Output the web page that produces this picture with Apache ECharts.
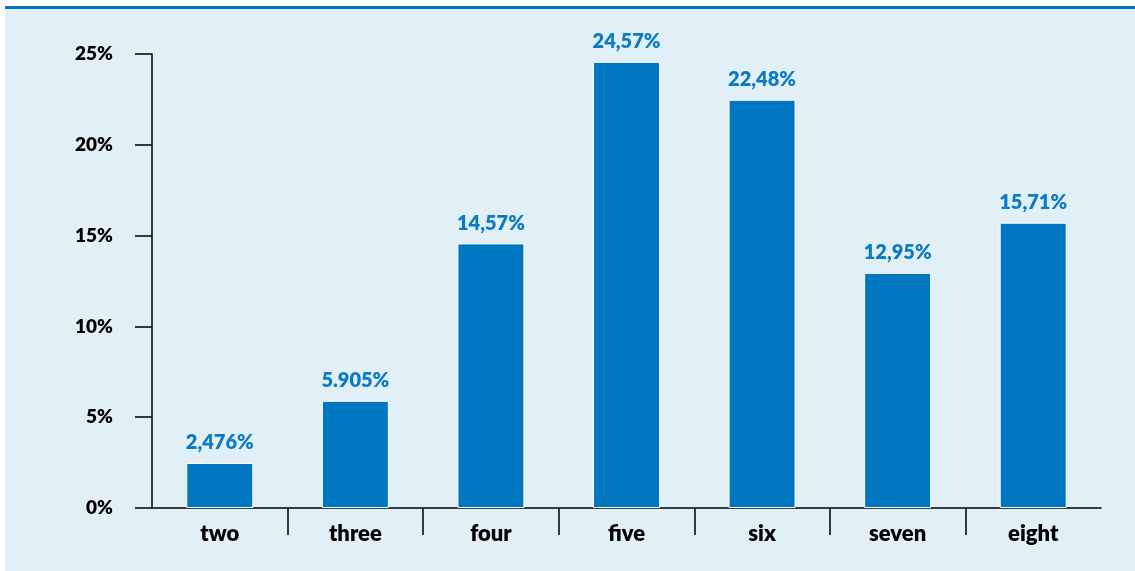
<!DOCTYPE html>
<html>
<head>
<meta charset="utf-8">
<script src="https://cdn.jsdelivr.net/npm/echarts@6/dist/echarts.min.js"></script>
<style>
  html, body { margin: 0; padding: 0; background: #ffffff; }
  #panel {
    position: absolute; left: 5px; top: 6px; width: 1130px; height: 565px;
    background: #e1eff7; border-top: 3px solid #0077c2; box-sizing: border-box;
  }
  #chart { position: absolute; left: 0; top: 0; width: 1135px; height: 571px; }
</style>
</head>
<body>
<div id="panel"></div>
<div id="chart"></div>
<script>
// Share of items per group size
const categories = ['two', 'three', 'four', 'five', 'six', 'seven', 'eight'];
const values = [2.476, 5.905, 14.57, 24.57, 22.48, 12.95, 15.71];
const valueLabels = ['2,476%', '5.905%', '14,57%', '24,57%', '22,48%', '12,95%', '15,71%'];
const yTicks = [0, 5, 10, 15, 20, 25];
const boundaryTicks = [1, 2, 3, 4, 5, 6];

const font = 'Lato, "Open Sans", sans-serif';
const weight = 800;
const chart = echarts.init(document.getElementById('chart'), null, { renderer: 'canvas' });

chart.setOption({
  backgroundColor: 'transparent',
  animation: false,
  grid: { left: 152, right: 34, top: 54, bottom: 63, containLabel: false },
  xAxis: [
    {
      type: 'category',
      data: categories,
      axisLine: { lineStyle: { color: '#000000', width: 1.5 } },
      axisTick: { show: false },
      axisLabel: { color: '#000000', fontFamily: font, fontWeight: weight, fontSize: 22, margin: 15 },
      splitLine: { show: false }
    },
    {
      // separators between categories
      type: 'value',
      position: 'bottom',
      min: 0,
      max: categories.length,
      interval: 1,
      axisLine: { show: false },
      axisLabel: { show: false },
      splitLine: { show: false },
      axisTick: {
        show: true,
        length: 27,
        customValues: boundaryTicks,
        lineStyle: { color: '#000000', width: 1.5 }
      }
    }
  ],
  yAxis: {
    type: 'value',
    min: yTicks[0],
    max: yTicks[yTicks.length - 1],
    interval: 5,
    axisLine: { show: true, lineStyle: { color: '#000000', width: 1.5 } },
    axisTick: { show: true, length: 17, lineStyle: { color: '#000000', width: 1.5 } },
    axisLabel: {
      color: '#000000', fontFamily: font, fontWeight: weight, fontSize: 19, margin: 39,
      formatter: '{value}%'
    },
    splitLine: { show: false }
  },
  series: [{
    type: 'bar',
    xAxisIndex: 0,
    data: values,
    barWidth: 67,
    itemStyle: { color: '#0077c0', borderColor: '#ffffff', borderWidth: 1 },
    label: {
      show: true,
      position: 'top',
      distance: 10,
      color: '#0d7ac4',
      fontFamily: font,
      fontWeight: weight,
      fontSize: 20,
      formatter: p => valueLabels[p.dataIndex]
    }
  }]
});
</script>
</body>
</html>
